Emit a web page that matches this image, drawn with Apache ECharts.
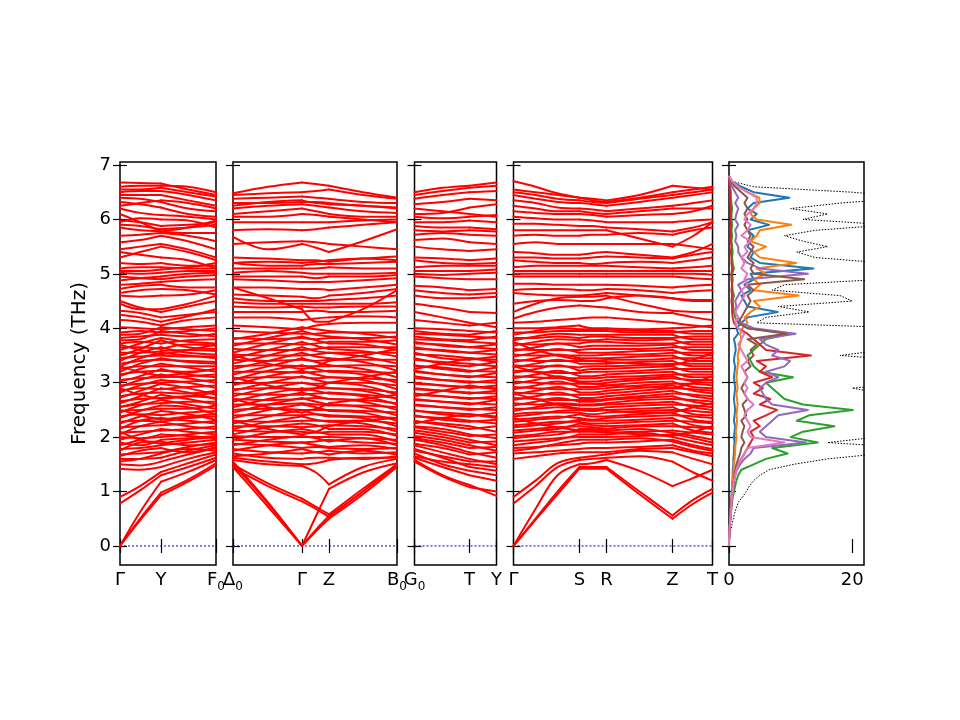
<!DOCTYPE html>
<html>
<head>
<meta charset="utf-8">
<script src="https://cdn.jsdelivr.net/npm/echarts@6/dist/echarts.min.js"></script>
<style>
html, body { margin: 0; padding: 0; background: #fff; }
#bands { width: 960px; height: 720px; }
</style>
</head>
<body>
<div id="bands"></div>
<script>
// k-path sample positions (path distance) and high-symmetry points per panel
var k1 = [0, 20, 41, 68, 96];
var k2 = [0, 35, 69, 83, 96, 130, 164];
var k3 = [0, 28, 55, 82];
var k4 = [0, 22, 44, 66, 79, 93, 126, 159, 180, 199];

var kTicks1 = [0, 41, 96];
var kTicks2 = [0, 69, 96, 164];
var kTicks3 = [0, 55, 82];
var kTicks4 = [0, 66, 93, 159, 199];

var kLabels1 = ['Γ', 'Y', 'F_0'];
var kLabels2 = ['Δ_0', 'Γ', 'Z', 'B_0'];
var kLabels3 = ['G_0', 'T', 'Y'];
var kLabels4 = ['Γ', 'S', 'R', 'Z', 'T'];

var freqTicks = [0, 1, 2, 3, 4, 5, 6, 7];
var dosTicks = [0, 20];

// Γ - Y - F0
var bands1 = [
	[0, 0.47, 0.93, 1.18, 1.48],
	[0, 0.5, 0.98, 1.22, 1.52],
	[0, 0.62, 1.18, 1.36, 1.58],
	[0.78, 1.02, 1.3, 1.45, 1.62],
	[0.9, 1.1, 1.36, 1.52, 1.68],
	[1.42, 1.4, 1.45, 1.6, 1.72],
	[1.5, 1.48, 1.55, 1.68, 1.8],
	[1.6, 1.6, 1.62, 1.75, 1.85],
	[1.68, 1.7, 1.72, 1.82, 1.9],
	[1.78, 1.8, 1.85, 1.9, 1.95],
	[1.9, 1.85, 1.95, 1.98, 2.02],
	[2.0, 1.98, 2.0, 2.05, 2.1],
	[2.08, 2.1, 2.12, 2.15, 2.2],
	[2.18, 2.2, 2.22, 2.25, 2.3],
	[2.28, 2.3, 2.28, 2.35, 2.38],
	[2.38, 2.42, 2.4, 2.45, 2.48],
	[2.48, 2.5, 2.52, 2.52, 2.58],
	[2.56, 2.6, 2.62, 2.65, 2.65],
	[2.66, 2.7, 2.72, 2.75, 2.72],
	[2.75, 2.8, 2.82, 2.8, 2.85],
	[2.85, 2.9, 2.88, 2.92, 2.95],
	[2.95, 2.98, 3.0, 3.02, 3.05],
	[3.05, 3.08, 3.1, 3.12, 3.15],
	[3.15, 3.2, 3.22, 3.2, 3.25],
	[3.25, 3.3, 3.3, 3.3, 3.3],
	[3.35, 3.4, 3.42, 3.4, 3.38],
	[3.45, 3.48, 3.5, 3.48, 3.48],
	[3.55, 3.55, 3.58, 3.6, 3.58],
	[3.65, 3.65, 3.62, 3.7, 3.68],
	[3.72, 3.75, 3.72, 3.78, 3.8],
	[3.82, 3.85, 3.88, 3.85, 3.9],
	[3.92, 3.95, 3.92, 3.95, 4.0],
	[4.02, 4.0, 3.98, 4.02, 4.05],
	[4.15, 4.12, 4.05, 4.15, 4.2],
	[4.32, 4.28, 4.2, 4.25, 4.3],
	[4.5, 4.38, 4.3, 4.4, 4.5],
	[4.45, 4.35, 4.35, 4.45, 4.6],
	[4.6, 4.58, 4.6, 4.62, 4.7],
	[4.72, 4.78, 4.8, 4.75, 4.75],
	[4.8, 4.82, 4.85, 4.88, 4.9],
	[4.95, 4.92, 4.9, 4.95, 4.98],
	[5.02, 5.0, 5.02, 5.05, 5.05],
	[5.1, 5.12, 5.12, 5.1, 5.1],
	[5.2, 5.18, 5.2, 5.15, 5.15],
	[5.4, 5.35, 5.3, 5.25, 5.1],
	[5.45, 5.5, 5.55, 5.45, 5.3],
	[5.58, 5.62, 5.7, 5.6, 5.45],
	[5.7, 5.72, 5.75, 5.7, 5.6],
	[5.85, 5.8, 5.78, 5.75, 5.75],
	[5.9, 5.88, 5.82, 5.85, 5.9],
	[5.98, 5.95, 5.88, 5.9, 5.95],
	[6.1, 5.95, 5.78, 5.85, 5.98],
	[6.2, 6.12, 6.08, 6.05, 6.0],
	[6.32, 6.28, 6.22, 6.1, 6.05],
	[6.4, 6.38, 6.32, 6.2, 6.15],
	[6.45, 6.45, 6.45, 6.35, 6.25],
	[6.5, 6.52, 6.52, 6.45, 6.35],
	[6.55, 6.55, 6.58, 6.5, 6.42],
	[6.68, 6.67, 6.66, 6.55, 6.45],
	[1.55, 1.6, 1.7, 1.78, 1.75],
	[1.65, 1.75, 1.8, 1.72, 1.82],
	[1.75, 1.9, 1.92, 1.85, 1.88],
	[1.85, 1.95, 2.05, 2.02, 1.98],
	[1.95, 2.05, 2.15, 2.1, 2.05],
	[2.05, 2.2, 2.28, 2.2, 2.15],
	[2.15, 2.3, 2.35, 2.3, 2.25],
	[2.25, 2.38, 2.48, 2.42, 2.32],
	[2.35, 2.48, 2.58, 2.55, 2.42],
	[2.45, 2.58, 2.68, 2.6, 2.52],
	[2.55, 2.65, 2.78, 2.7, 2.6],
	[2.62, 2.75, 2.9, 2.82, 2.7],
	[2.72, 2.85, 2.98, 2.9, 2.78],
	[2.82, 2.95, 3.05, 3.0, 2.9],
	[2.92, 3.05, 3.15, 3.08, 3.0],
	[3.02, 3.12, 3.25, 3.15, 3.1],
	[3.12, 3.25, 3.35, 3.28, 3.2],
	[3.2, 3.35, 3.45, 3.38, 3.35],
	[3.3, 3.45, 3.55, 3.5, 3.45],
	[3.4, 3.55, 3.65, 3.55, 3.52],
	[3.5, 3.62, 3.78, 3.65, 3.62],
	[3.6, 3.72, 3.82, 3.75, 3.72],
	[3.78, 3.8, 3.95, 3.9, 3.85],
	[3.88, 3.9, 4.02, 3.98, 3.95],
	[2.1, 1.95, 1.88, 1.95, 2.0],
	[2.5, 2.4, 2.32, 2.38, 2.42],
	[2.9, 2.78, 2.7, 2.75, 2.82],
	[3.3, 3.2, 3.12, 3.18, 3.25],
	[3.7, 3.6, 3.52, 3.6, 3.7],
	[4.25, 4.2, 4.12, 4.22, 4.35],
	[4.65, 4.7, 4.72, 4.7, 4.62],
	[4.88, 4.92, 4.95, 5.0, 5.02],
	[5.05, 5.05, 5.08, 5.12, 5.2],
	[5.3, 5.4, 5.5, 5.4, 5.25],
	[5.95, 6.02, 6.0, 5.98, 5.85],
	[6.25, 6.3, 6.35, 6.3, 6.2],
	[6.6, 6.62, 6.62, 6.6, 6.5]
];

// Δ0 - Γ - Z - B0
var bands2 = [
	[1.5, 0.78, 0, 0.55, 1.05, 1.35, 1.52],
	[1.55, 0.8, 0, 0.3, 0.55, 1.0, 1.5],
	[1.45, 0.72, 0, 0.27, 0.5, 0.95, 1.45],
	[1.5, 1.15, 0.87, 0.72, 0.58, 1.05, 1.5],
	[1.44, 1.1, 0.82, 0.68, 0.53, 1.0, 1.47],
	[1.58, 1.5, 1.47, 1.35, 1.13, 1.45, 1.6],
	[1.62, 1.55, 1.5, 1.52, 1.58, 1.62, 1.62],
	[1.7, 1.62, 1.6, 1.62, 1.62, 1.6, 1.65],
	[1.78, 1.72, 1.7, 1.72, 1.75, 1.7, 1.72],
	[1.88, 1.85, 1.8, 1.82, 1.8, 1.78, 1.8],
	[1.95, 1.92, 1.9, 1.92, 1.95, 1.9, 1.88],
	[2.02, 2.0, 2.0, 2.0, 2.0, 1.98, 1.95],
	[2.12, 2.1, 2.1, 2.08, 2.1, 2.1, 2.05],
	[2.2, 2.2, 2.18, 2.2, 2.22, 2.2, 2.15],
	[2.3, 2.28, 2.3, 2.3, 2.3, 2.3, 2.25],
	[2.4, 2.4, 2.4, 2.42, 2.4, 2.38, 2.35],
	[2.5, 2.52, 2.5, 2.5, 2.5, 2.48, 2.45],
	[2.6, 2.6, 2.62, 2.6, 2.58, 2.58, 2.55],
	[2.7, 2.68, 2.7, 2.72, 2.7, 2.68, 2.62],
	[2.8, 2.78, 2.78, 2.8, 2.82, 2.78, 2.72],
	[2.88, 2.9, 2.88, 2.9, 2.9, 2.88, 2.82],
	[2.98, 3.0, 3.0, 2.98, 3.0, 3.0, 2.95],
	[3.08, 3.1, 3.1, 3.08, 3.1, 3.08, 3.05],
	[3.2, 3.2, 3.18, 3.2, 3.22, 3.2, 3.18],
	[3.3, 3.32, 3.3, 3.3, 3.3, 3.32, 3.3],
	[3.42, 3.4, 3.42, 3.4, 3.42, 3.42, 3.42],
	[3.52, 3.5, 3.5, 3.52, 3.55, 3.55, 3.55],
	[3.62, 3.6, 3.6, 3.62, 3.65, 3.65, 3.65],
	[3.72, 3.72, 3.7, 3.72, 3.75, 3.75, 3.78],
	[3.82, 3.8, 3.82, 3.8, 3.82, 3.82, 3.85],
	[3.95, 3.92, 3.9, 3.9, 3.92, 3.92, 3.92],
	[4.05, 4.02, 3.98, 4.05, 4.08, 4.1, 4.1],
	[4.75, 4.55, 4.35, 4.12, 4.12, 4.35, 4.7],
	[4.3, 4.3, 4.3, 4.32, 4.3, 4.3, 4.32],
	[4.48, 4.45, 4.45, 4.45, 4.45, 4.45, 4.48],
	[4.62, 4.6, 4.58, 4.55, 4.6, 4.65, 4.72],
	[4.75, 4.75, 4.72, 4.72, 4.7, 4.75, 4.8],
	[4.9, 4.88, 4.85, 4.85, 4.85, 4.88, 4.92],
	[5.02, 5.05, 5.02, 5.0, 5.0, 5.0, 5.02],
	[5.1, 5.1, 5.1, 5.1, 5.12, 5.1, 5.1],
	[5.2, 5.15, 5.15, 5.18, 5.18, 5.2, 5.22],
	[5.3, 5.28, 5.25, 5.25, 5.22, 5.28, 5.32],
	[5.55, 5.58, 5.6, 5.58, 5.55, 5.5, 5.45],
	[5.68, 5.45, 5.55, 5.48, 5.4, 5.6, 5.82],
	[5.8, 5.82, 5.8, 5.82, 5.85, 5.9, 5.95],
	[5.95, 5.95, 5.95, 5.95, 5.95, 5.98, 6.0],
	[6.1, 6.15, 6.2, 6.15, 6.1, 6.05, 6.05],
	[6.2, 6.25, 6.28, 6.25, 6.22, 6.15, 6.12],
	[6.3, 6.3, 6.32, 6.32, 6.3, 6.25, 6.22],
	[6.38, 6.4, 6.42, 6.4, 6.38, 6.32, 6.3],
	[6.45, 6.48, 6.5, 6.52, 6.55, 6.45, 6.38],
	[6.48, 6.6, 6.68, 6.65, 6.62, 6.5, 6.4],
	[1.65, 1.7, 1.78, 1.72, 1.68, 1.75, 1.68],
	[1.75, 1.85, 1.9, 1.85, 1.82, 1.85, 1.78],
	[1.85, 1.95, 2.02, 1.98, 1.92, 1.98, 1.85],
	[1.95, 2.08, 2.15, 2.1, 2.05, 2.05, 1.92],
	[2.05, 2.18, 2.25, 2.22, 2.15, 2.15, 2.02],
	[2.15, 2.28, 2.38, 2.32, 2.28, 2.25, 2.1],
	[2.25, 2.38, 2.5, 2.42, 2.38, 2.35, 2.2],
	[2.35, 2.5, 2.6, 2.55, 2.48, 2.45, 2.3],
	[2.45, 2.6, 2.72, 2.65, 2.6, 2.55, 2.4],
	[2.55, 2.7, 2.82, 2.75, 2.7, 2.65, 2.5],
	[2.65, 2.8, 2.9, 2.85, 2.8, 2.75, 2.6],
	[2.75, 2.9, 3.0, 2.95, 2.9, 2.85, 2.7],
	[2.85, 3.0, 3.12, 3.05, 3.0, 2.95, 2.78],
	[2.95, 3.12, 3.22, 3.15, 3.1, 3.05, 2.88],
	[3.05, 3.22, 3.32, 3.25, 3.2, 3.15, 3.0],
	[3.15, 3.3, 3.45, 3.38, 3.32, 3.25, 3.1],
	[3.25, 3.4, 3.55, 3.48, 3.45, 3.38, 3.22],
	[3.35, 3.5, 3.65, 3.58, 3.55, 3.48, 3.35],
	[3.45, 3.6, 3.75, 3.68, 3.62, 3.58, 3.48],
	[3.55, 3.72, 3.85, 3.78, 3.72, 3.7, 3.6],
	[3.68, 3.82, 3.95, 3.88, 3.85, 3.8, 3.7],
	[3.8, 3.9, 4.02, 3.98, 3.95, 3.9, 3.82],
	[2.3, 2.15, 2.05, 2.1, 2.2, 2.3, 2.35],
	[2.7, 2.55, 2.45, 2.52, 2.62, 2.7, 2.78],
	[3.1, 2.95, 2.85, 2.9, 3.0, 3.1, 3.2],
	[3.5, 3.35, 3.25, 3.3, 3.4, 3.5, 3.62],
	[4.2, 4.2, 4.15, 4.18, 4.2, 4.22, 4.2],
	[4.4, 4.38, 4.4, 4.38, 4.38, 4.4, 4.4],
	[4.55, 4.5, 4.5, 4.5, 4.52, 4.55, 4.6],
	[4.95, 4.95, 4.95, 4.92, 4.95, 4.95, 4.98],
	[5.2, 5.22, 5.2, 5.22, 5.25, 5.28, 5.25],
	[6.05, 6.05, 6.1, 6.08, 6.05, 6.0, 5.95],
	[6.25, 6.32, 6.35, 6.3, 6.28, 6.25, 6.2]
];

// G0 - T - Y
var bands3 = [
	[1.58, 1.3, 1.12, 0.92],
	[1.55, 1.28, 1.08, 1.0],
	[1.62, 1.45, 1.3, 1.2],
	[1.7, 1.5, 1.38, 1.3],
	[1.78, 1.62, 1.45, 1.38],
	[1.85, 1.72, 1.6, 1.5],
	[1.95, 1.85, 1.72, 1.62],
	[2.02, 1.95, 1.85, 1.75],
	[2.12, 2.05, 1.95, 1.85],
	[2.2, 2.15, 2.05, 1.98],
	[2.28, 2.25, 2.2, 2.1],
	[2.38, 2.35, 2.3, 2.25],
	[2.48, 2.45, 2.42, 2.38],
	[2.58, 2.55, 2.52, 2.5],
	[2.68, 2.65, 2.62, 2.6],
	[2.78, 2.75, 2.72, 2.7],
	[2.88, 2.85, 2.82, 2.8],
	[2.98, 2.95, 2.92, 2.9],
	[3.08, 3.05, 3.02, 3.0],
	[3.2, 3.15, 3.12, 3.1],
	[3.3, 3.28, 3.22, 3.2],
	[3.42, 3.38, 3.35, 3.3],
	[3.52, 3.5, 3.45, 3.42],
	[3.62, 3.6, 3.55, 3.52],
	[3.72, 3.7, 3.65, 3.62],
	[3.8, 3.78, 3.75, 3.72],
	[3.9, 3.88, 3.85, 3.82],
	[4.0, 3.98, 3.95, 3.92],
	[4.3, 4.2, 4.1, 4.02],
	[4.45, 4.38, 4.3, 4.28],
	[4.6, 4.55, 4.55, 4.58],
	[4.78, 4.75, 4.7, 4.72],
	[4.95, 4.92, 4.9, 4.9],
	[5.05, 5.05, 5.05, 5.08],
	[5.12, 5.15, 5.15, 5.15],
	[5.25, 5.2, 5.18, 5.2],
	[5.5, 5.45, 5.42, 5.45],
	[5.62, 5.65, 5.58, 5.55],
	[5.72, 5.75, 5.72, 5.7],
	[5.88, 5.85, 5.85, 5.82],
	[5.95, 5.95, 5.98, 5.95],
	[6.05, 6.02, 6.05, 6.08],
	[6.2, 6.15, 6.1, 6.05],
	[6.28, 6.32, 6.38, 6.35],
	[6.38, 6.45, 6.5, 6.52],
	[6.45, 6.52, 6.58, 6.62],
	[6.5, 6.58, 6.62, 6.68],
	[1.65, 1.55, 1.5, 1.45],
	[1.75, 1.65, 1.55, 1.55],
	[1.88, 1.8, 1.68, 1.72],
	[1.98, 1.9, 1.8, 1.82],
	[2.08, 2.0, 1.9, 1.92],
	[2.18, 2.1, 2.02, 2.05],
	[2.3, 2.22, 2.15, 2.2],
	[2.4, 2.32, 2.28, 2.32],
	[2.5, 2.42, 2.38, 2.45],
	[2.6, 2.55, 2.5, 2.55],
	[2.7, 2.65, 2.6, 2.68],
	[2.8, 2.75, 2.7, 2.75],
	[2.9, 2.85, 2.8, 2.85],
	[3.0, 2.95, 2.9, 2.95],
	[3.12, 3.05, 3.0, 3.05],
	[3.22, 3.15, 3.1, 3.18],
	[3.32, 3.25, 3.2, 3.28],
	[3.45, 3.35, 3.3, 3.38],
	[3.55, 3.45, 3.42, 3.48],
	[3.65, 3.58, 3.55, 3.6],
	[3.75, 3.68, 3.65, 3.7],
	[3.85, 3.8, 3.78, 3.85],
	[3.95, 3.9, 3.88, 3.95],
	[2.25, 2.35, 2.42, 2.35],
	[2.75, 2.85, 2.95, 2.88],
	[3.25, 3.35, 3.45, 3.38],
	[4.15, 4.1, 4.05, 4.1],
	[4.7, 4.65, 4.62, 4.65],
	[5.0, 4.98, 5.0, 5.02],
	[5.3, 5.28, 5.25, 5.28],
	[5.8, 5.78, 5.8, 5.78],
	[6.1, 6.12, 6.22, 6.28]
];

// Γ - S - R - Z - T
var bands4 = [
	[0, 0.48, 0.95, 1.42, 1.42, 1.42, 0.95, 0.5, 0.78, 0.98],
	[0, 0.5, 1.0, 1.45, 1.45, 1.45, 1.0, 0.56, 0.85, 1.05],
	[0, 0.68, 1.3, 1.5, 1.52, 1.58, 1.38, 1.1, 1.25, 1.4],
	[0.78, 1.1, 1.45, 1.58, 1.6, 1.62, 1.65, 1.55, 1.35, 1.2],
	[0.9, 1.2, 1.52, 1.62, 1.65, 1.68, 1.75, 1.72, 1.6, 1.5],
	[1.7, 1.72, 1.75, 1.78, 1.8, 1.8, 1.82, 1.85, 1.75, 1.7],
	[1.8, 1.82, 1.85, 1.88, 1.9, 1.9, 1.92, 1.95, 1.85, 1.78],
	[1.92, 1.95, 1.98, 2.0, 2.0, 2.0, 2.02, 2.05, 1.98, 1.9],
	[2.02, 2.05, 2.1, 2.1, 2.1, 2.08, 2.1, 2.12, 2.08, 2.05],
	[2.12, 2.15, 2.18, 2.2, 2.18, 2.15, 2.2, 2.2, 2.18, 2.15],
	[2.22, 2.25, 2.28, 2.28, 2.25, 2.25, 2.28, 2.3, 2.28, 2.25],
	[2.32, 2.35, 2.38, 2.35, 2.32, 2.35, 2.38, 2.4, 2.38, 2.35],
	[2.42, 2.45, 2.45, 2.45, 2.42, 2.45, 2.48, 2.5, 2.48, 2.45],
	[2.52, 2.52, 2.55, 2.52, 2.52, 2.55, 2.58, 2.6, 2.58, 2.55],
	[2.62, 2.6, 2.62, 2.6, 2.6, 2.62, 2.68, 2.7, 2.68, 2.65],
	[2.72, 2.7, 2.68, 2.68, 2.68, 2.7, 2.75, 2.8, 2.78, 2.75],
	[2.82, 2.8, 2.78, 2.78, 2.78, 2.8, 2.85, 2.9, 2.88, 2.85],
	[2.92, 2.9, 2.88, 2.88, 2.88, 2.9, 2.95, 2.98, 2.98, 2.95],
	[3.02, 3.0, 2.98, 2.98, 2.98, 3.0, 3.05, 3.08, 3.05, 3.05],
	[3.12, 3.1, 3.08, 3.08, 3.08, 3.1, 3.12, 3.15, 3.15, 3.15],
	[3.22, 3.2, 3.18, 3.18, 3.2, 3.2, 3.22, 3.25, 3.25, 3.25],
	[3.32, 3.3, 3.3, 3.28, 3.3, 3.3, 3.32, 3.35, 3.35, 3.35],
	[3.42, 3.4, 3.4, 3.4, 3.4, 3.42, 3.42, 3.45, 3.45, 3.45],
	[3.52, 3.5, 3.5, 3.5, 3.5, 3.52, 3.52, 3.55, 3.55, 3.55],
	[3.62, 3.6, 3.6, 3.6, 3.62, 3.62, 3.62, 3.65, 3.65, 3.65],
	[3.72, 3.7, 3.72, 3.72, 3.75, 3.75, 3.72, 3.72, 3.75, 3.75],
	[3.82, 3.82, 3.85, 3.82, 3.85, 3.85, 3.82, 3.82, 3.85, 3.85],
	[3.92, 3.92, 3.95, 3.95, 3.95, 3.95, 3.92, 3.92, 3.95, 3.95],
	[4.0, 4.0, 4.02, 4.05, 4.0, 4.0, 3.98, 4.0, 4.02, 4.05],
	[4.18, 4.3, 4.38, 4.42, 4.4, 4.38, 4.3, 4.28, 4.2, 4.15],
	[4.3, 4.45, 4.55, 4.58, 4.58, 4.6, 4.45, 4.32, 4.3, 4.3],
	[4.45, 4.5, 4.52, 4.5, 4.5, 4.55, 4.6, 4.55, 4.5, 4.5],
	[4.65, 4.62, 4.6, 4.6, 4.62, 4.65, 4.6, 4.55, 4.52, 4.52],
	[4.82, 4.82, 4.8, 4.8, 4.8, 4.8, 4.78, 4.75, 4.78, 4.8],
	[4.95, 4.95, 4.95, 4.95, 4.95, 4.95, 4.95, 4.95, 4.92, 4.9],
	[5.05, 5.05, 5.05, 5.05, 5.05, 5.05, 5.05, 5.05, 5.05, 5.05],
	[5.12, 5.15, 5.15, 5.15, 5.15, 5.15, 5.12, 5.1, 5.12, 5.15],
	[5.25, 5.22, 5.2, 5.2, 5.18, 5.2, 5.22, 5.2, 5.25, 5.3],
	[5.4, 5.38, 5.35, 5.35, 5.38, 5.4, 5.35, 5.3, 5.4, 5.55],
	[5.55, 5.58, 5.55, 5.55, 5.55, 5.55, 5.55, 5.55, 5.5, 5.45],
	[5.8, 5.8, 5.8, 5.8, 5.8, 5.8, 5.65, 5.5, 5.7, 5.95],
	[5.92, 5.92, 5.9, 5.88, 5.88, 5.85, 5.82, 5.78, 5.85, 5.95],
	[6.05, 6.02, 6.0, 6.0, 5.98, 5.95, 5.95, 5.95, 5.98, 6.0],
	[6.25, 6.2, 6.15, 6.15, 6.12, 6.1, 6.15, 6.2, 6.2, 6.2],
	[6.35, 6.3, 6.22, 6.2, 6.18, 6.15, 6.2, 6.25, 6.3, 6.35],
	[6.45, 6.38, 6.32, 6.3, 6.28, 6.25, 6.32, 6.4, 6.45, 6.5],
	[6.5, 6.45, 6.38, 6.35, 6.32, 6.3, 6.38, 6.45, 6.5, 6.55],
	[6.7, 6.6, 6.48, 6.4, 6.38, 6.35, 6.45, 6.62, 6.58, 6.55],
	[1.6, 1.65, 1.7, 1.72, 1.72, 1.72, 1.78, 1.8, 1.72, 1.65],
	[1.75, 1.8, 1.88, 1.95, 1.95, 1.95, 1.98, 1.92, 1.82, 1.75],
	[1.85, 1.9, 1.95, 2.05, 2.05, 2.05, 2.08, 2.0, 1.92, 1.85],
	[1.98, 2.02, 2.05, 2.15, 2.15, 2.12, 2.15, 2.08, 2.02, 1.95],
	[2.08, 2.12, 2.15, 2.25, 2.22, 2.2, 2.22, 2.25, 2.12, 2.08],
	[2.18, 2.22, 2.25, 2.32, 2.3, 2.3, 2.32, 2.35, 2.22, 2.18],
	[2.28, 2.32, 2.35, 2.42, 2.38, 2.38, 2.42, 2.45, 2.32, 2.28],
	[2.38, 2.42, 2.48, 2.5, 2.48, 2.5, 2.52, 2.55, 2.42, 2.4],
	[2.48, 2.55, 2.6, 2.58, 2.58, 2.6, 2.62, 2.65, 2.55, 2.5],
	[2.58, 2.65, 2.72, 2.65, 2.65, 2.68, 2.72, 2.75, 2.65, 2.6],
	[2.68, 2.75, 2.82, 2.72, 2.72, 2.75, 2.8, 2.85, 2.75, 2.7],
	[2.78, 2.85, 2.92, 2.82, 2.82, 2.85, 2.9, 2.95, 2.85, 2.8],
	[2.88, 2.95, 3.02, 2.92, 2.92, 2.95, 3.0, 3.02, 2.92, 2.9],
	[2.98, 3.05, 3.12, 3.02, 3.02, 3.05, 3.08, 3.12, 3.02, 3.0],
	[3.08, 3.15, 3.22, 3.12, 3.12, 3.15, 3.18, 3.2, 3.1, 3.1],
	[3.18, 3.25, 3.32, 3.22, 3.25, 3.25, 3.28, 3.3, 3.2, 3.2],
	[3.28, 3.35, 3.42, 3.35, 3.35, 3.35, 3.38, 3.4, 3.3, 3.3],
	[3.38, 3.45, 3.52, 3.45, 3.45, 3.45, 3.48, 3.5, 3.4, 3.4],
	[3.48, 3.55, 3.62, 3.55, 3.55, 3.55, 3.58, 3.6, 3.5, 3.5],
	[3.58, 3.65, 3.72, 3.65, 3.68, 3.68, 3.68, 3.7, 3.6, 3.6],
	[3.68, 3.75, 3.8, 3.78, 3.78, 3.8, 3.78, 3.8, 3.7, 3.7],
	[3.78, 3.85, 3.9, 3.88, 3.88, 3.88, 3.88, 3.88, 3.8, 3.8],
	[3.88, 3.95, 4.0, 3.98, 3.98, 3.98, 3.95, 3.95, 3.9, 3.9],
	[2.35, 2.25, 2.18, 2.12, 2.12, 2.1, 2.05, 2.02, 2.1, 2.2],
	[2.8, 2.7, 2.6, 2.52, 2.5, 2.5, 2.45, 2.45, 2.55, 2.62],
	[3.3, 3.2, 3.1, 3.0, 2.98, 2.95, 2.92, 2.9, 3.0, 3.12],
	[3.75, 3.6, 3.5, 3.42, 3.4, 3.38, 3.35, 3.32, 3.42, 3.55],
	[4.1, 4.12, 4.15, 4.18, 4.2, 4.2, 4.15, 4.1, 4.05, 4.02],
	[4.7, 4.72, 4.72, 4.7, 4.7, 4.72, 4.7, 4.65, 4.68, 4.7],
	[5.0, 5.0, 5.0, 5.0, 5.0, 5.0, 5.0, 5.0, 5.0, 4.98],
	[5.3, 5.3, 5.28, 5.28, 5.3, 5.32, 5.3, 5.28, 5.35, 5.4],
	[5.7, 5.72, 5.7, 5.7, 5.72, 5.72, 5.75, 5.72, 5.8, 5.85],
	[6.15, 6.12, 6.1, 6.1, 6.08, 6.05, 6.08, 6.1, 6.15, 6.25],
	[6.55, 6.5, 6.45, 6.4, 6.35, 6.32, 6.4, 6.5, 6.55, 6.6]
];

// DOS: frequency grid (THz) and densities
var dosFreq = [0, 0.1, 0.2, 0.3, 0.4, 0.5, 0.6, 0.7, 0.8, 0.9, 1.0,
	1.1, 1.2, 1.3, 1.4, 1.5, 1.6, 1.7, 1.8, 1.9, 2.0,
	2.1, 2.2, 2.3, 2.4, 2.5, 2.6, 2.7, 2.8, 2.9, 3.0,
	3.1, 3.2, 3.3, 3.4, 3.5, 3.6, 3.7, 3.8, 3.9, 4.0,
	4.1, 4.2, 4.3, 4.4, 4.5, 4.6, 4.7, 4.8, 4.9, 5.0,
	5.1, 5.2, 5.3, 5.4, 5.5, 5.6, 5.7, 5.8, 5.9, 6.0,
	6.1, 6.2, 6.3, 6.4, 6.5, 6.6, 6.7, 6.8];

var dosTotal = [0, 0.05, 0.1, 0.3, 0.5, 0.7, 0.9, 1.2, 1.5, 2.2, 2.8,
	3.3, 4.0, 5.0, 6.5, 10.5, 16, 25, 30, 16, 24,
	30, 35, 30, 40, 45, 35, 30, 25, 20, 30,
	25, 35, 40, 30, 18, 25, 30, 40, 22, 30,
	4.5, 6, 13, 8, 20, 18, 7, 9, 25, 30,
	35, 25, 14, 11, 16, 12, 9, 14, 26, 12,
	16, 10, 18, 30, 20, 4, 0.5, 0];

var dosBlue = [0, 0, 0.05, 0.1, 0.15, 0.2, 0.25, 0.3, 0.35, 0.4, 0.45,
	0.5, 0.55, 0.6, 0.6, 0.7, 0.7, 0.8, 0.8, 0.9, 0.8,
	0.9, 1.0, 0.8, 0.9, 1.0, 0.9, 0.8, 0.9, 1.0, 0.9,
	0.8, 0.9, 1.0, 0.8, 0.9, 1.1, 1.0, 0.8, 1.5, 1.2,
	2.0, 3.0, 7.9, 3.0, 2.5, 2.0, 3.5, 2.5, 4.0, 3.5,
	13.7, 5.0, 3.5, 4.0, 3.0, 3.5, 4.0, 3.0, 6.5, 3.5,
	4.5, 3.0, 4.0, 9.8, 4.0, 2.0, 0.5, 0];

var dosOrange = [0, 0, 0.05, 0.1, 0.15, 0.2, 0.25, 0.3, 0.35, 0.4, 0.5,
	0.5, 0.6, 0.7, 0.7, 0.8, 0.9, 1.0, 1.0, 1.1, 1.2,
	1.1, 1.2, 1.3, 1.2, 1.3, 1.4, 1.3, 1.2, 1.4, 1.3,
	1.2, 1.3, 1.4, 1.5, 1.4, 1.6, 1.8, 2.0, 1.8, 2.2,
	3.0, 2.5, 3.5, 5.0, 4.0, 11.3, 4.0, 5.0, 4.0, 6.0,
	4.5, 10.9, 5.0, 4.0, 6.0, 3.5, 4.5, 5.0, 10.1, 4.5,
	3.5, 4.0, 5.0, 4.9, 3.0, 1.5, 0.5, 0];

var dosGreen = [0, 0, 0.05, 0.1, 0.15, 0.2, 0.3, 0.4, 0.5, 0.6, 0.8,
	1.0, 1.2, 1.5, 2.0, 4.0, 6.0, 9.5, 7.0, 14.4, 10.0,
	12.0, 17.1, 11.0, 13.0, 20.1, 12.0, 9.0, 8.0, 7.0, 6.0,
	10.4, 5.0, 4.0, 3.5, 3.0, 4.0, 5.0, 6.0, 10.1, 3.0,
	1.5, 1.0, 0.8, 0.7, 0.6, 0.8, 0.6, 0.5, 0.6, 0.5,
	0.8, 0.6, 0.5, 0.6, 0.5, 0.4, 0.5, 0.4, 0.5, 0.4,
	0.4, 0.5, 0.4, 0.3, 0.3, 0.2, 0.1, 0];

var dosRed = [0, 0, 0.05, 0.1, 0.15, 0.2, 0.3, 0.35, 0.4, 0.5, 0.6,
	0.7, 0.8, 1.0, 1.2, 1.5, 2.0, 2.5, 3.0, 3.5, 4.0,
	3.5, 5.0, 4.0, 6.0, 7.8, 5.0, 6.7, 4.0, 5.5, 4.0,
	7.0, 5.0, 6.0, 4.5, 13.3, 6.0, 5.0, 4.0, 3.0, 1.5,
	0.8, 0.6, 0.5, 0.5, 0.4, 0.5, 0.4, 0.5, 0.4, 0.4,
	0.5, 0.4, 0.4, 0.3, 0.4, 0.3, 0.3, 0.3, 0.3, 0.3,
	0.3, 0.3, 0.2, 0.2, 0.2, 0.1, 0.05, 0];

var dosPurple = [0, 0, 0.05, 0.1, 0.15, 0.2, 0.3, 0.35, 0.4, 0.5, 0.6,
	0.7, 0.8, 1.0, 1.3, 1.8, 2.5, 3.5, 4.0, 12.5, 6.0,
	5.0, 6.0, 7.0, 8.0, 12.8, 7.0, 6.0, 5.5, 5.0, 6.0,
	8.0, 6.0, 9.0, 9.9, 7.0, 8.0, 6.0, 5.0, 10.8, 4.0,
	2.0, 1.5, 1.0, 1.2, 1.0, 1.5, 2.0, 1.5, 3.0, 12.8,
	5.0, 3.0, 2.0, 1.5, 1.5, 1.0, 1.2, 1.0, 1.5, 1.0,
	1.2, 1.5, 1.0, 1.5, 1.0, 0.5, 0.2, 0];

var dosBrown = [0, 0, 0.05, 0.1, 0.15, 0.2, 0.25, 0.3, 0.4, 0.5, 0.6,
	0.7, 0.8, 0.9, 1.0, 1.2, 1.5, 1.8, 2.0, 2.5, 2.0,
	2.2, 2.5, 2.0, 2.8, 2.5, 2.2, 3.0, 2.5, 2.0, 2.5,
	3.0, 2.5, 3.5, 3.0, 4.0, 3.5, 4.5, 3.0, 9.3, 3.0,
	1.5, 2.0, 2.5, 3.0, 3.5, 3.0, 4.0, 3.0, 12.2, 4.0,
	3.5, 4.0, 3.0, 3.5, 4.0, 3.0, 3.5, 3.0, 2.5, 3.0,
	2.5, 3.0, 2.5, 3.0, 2.0, 1.0, 0.3, 0];

var dosPink = [0, 0, 0.05, 0.1, 0.15, 0.2, 0.3, 0.35, 0.4, 0.5, 0.6,
	0.7, 0.8, 1.0, 1.2, 1.5, 2.0, 2.5, 3.0, 9.0, 3.5,
	3.0, 3.5, 3.0, 2.5, 3.0, 4.0, 3.0, 2.5, 3.0, 2.5,
	3.0, 2.5, 2.0, 3.0, 2.5, 2.0, 1.5, 2.0, 2.5, 1.5,
	1.0, 1.5, 1.0, 1.5, 2.0, 2.5, 2.0, 3.0, 2.5, 3.0,
	2.0, 2.5, 2.0, 3.0, 2.5, 3.5, 2.0, 3.0, 3.5, 2.5,
	3.0, 4.0, 4.5, 4.5, 3.0, 1.5, 0.5, 0];

var FONT = 'DejaVu Sans';
var panels = [
	{ k: k1, bands: bands1, ticks: kTicks1, labels: kLabels1, left: 120, width: 96 },
	{ k: k2, bands: bands2, ticks: kTicks2, labels: kLabels2, left: 233, width: 164 },
	{ k: k3, bands: bands3, ticks: kTicks3, labels: kLabels3, left: 414.5, width: 82 },
	{ k: k4, bands: bands4, ticks: kTicks4, labels: kLabels4, left: 513.5, width: 199 }
];
var dosPanel = { left: 729, width: 135, max: 21.9 };
var yMin = -0.35, yMax = 7.055;

function labelFormatter(ticks, labels) {
	return function (v) {
		var i = ticks.indexOf(v);
		if (i < 0) return '';
		var s = labels[i];
		if (s.indexOf('_') >= 0) {
			var p = s.split('_');
			return '{m|' + p[0] + '}{s|' + p[1] + '}';
		}
		return '{m|' + s + '}';
	};
}

var richLabel = {
	m: { fontSize: 18, fontFamily: FONT, color: '#000', lineHeight: 22, verticalAlign: 'top' },
	s: { fontSize: 12, fontFamily: FONT, color: '#000', lineHeight: 12, verticalAlign: 'bottom' }
};

function xAxisPair(gi, max, ticks, formatter) {
	var tick = { show: true, inside: true, length: 7, customValues: ticks, lineStyle: { color: '#000', width: 1.2 } };
	return [{
		gridIndex: gi, type: 'value', min: 0, max: max, position: 'bottom',
		axisLine: { show: false }, splitLine: { show: false }, axisTick: tick,
		axisLabel: { show: true, customValues: ticks, formatter: formatter, margin: 6, showMinLabel: true, showMaxLabel: true, rich: richLabel }
	}, {
		gridIndex: gi, type: 'value', min: 0, max: max, position: 'top',
		axisLine: { show: false }, splitLine: { show: false }, axisTick: tick,
		axisLabel: { show: false }
	}];
}

function yAxisPair(gi, showLabels) {
	var tick = { show: true, inside: true, length: 7, customValues: freqTicks, lineStyle: { color: '#000', width: 1.2 } };
	var left = {
		gridIndex: gi, type: 'value', min: yMin, max: yMax, position: 'left',
		axisLine: { show: false }, splitLine: { show: false }, axisTick: tick,
		axisLabel: { show: showLabels, customValues: freqTicks, margin: 9, color: '#000', fontSize: 18, fontFamily: FONT }
	};
	if (showLabels) {
		left.name = 'Frequency (THz)';
		left.nameLocation = 'middle';
		left.nameRotate = 90;
		left.nameGap = 30;
		left.nameTextStyle = { color: '#000', fontSize: 20, fontFamily: FONT };
	}
	return [left, {
		gridIndex: gi, type: 'value', min: yMin, max: yMax, position: 'right',
		axisLine: { show: false }, splitLine: { show: false }, axisTick: tick,
		axisLabel: { show: false }
	}];
}

// cut one band into pieces between high-symmetry points (kinks allowed there)
function bandPieces(k, b, ticks) {
	var pieces = [];
	for (var t = 0; t < ticks.length - 1; t++) {
		var seg = [];
		for (var j = 0; j < k.length; j++) {
			if (k[j] >= ticks[t] && k[j] <= ticks[t + 1]) seg.push([k[j], b[j]]);
		}
		if (seg.length > 1) pieces.push(seg);
	}
	return pieces;
}

function drawChart() {
	var myChart = echarts.init(document.getElementById('bands'), null, { renderer: 'canvas' });
	var grid = [], xAxis = [], yAxis = [], series = [];

	panels.forEach(function (p, i) {
		grid.push({ show: true, left: p.left, width: p.width, top: 162, height: 403, borderColor: '#000', borderWidth: 1.5, backgroundColor: 'transparent' });
		xAxis = xAxis.concat(xAxisPair(i, p.width, p.ticks, labelFormatter(p.ticks, p.labels)));
		yAxis = yAxis.concat(yAxisPair(i, i === 0));
		// 零频率参考线
		series.push({
			type: 'line', xAxisIndex: 2 * i, yAxisIndex: 2 * i, silent: true, symbol: 'none',
			data: [[0, 0], [p.width, 0]],
			lineStyle: { color: '#0000cc', width: 1, type: [2, 2] }, z: 1
		});
		p.bands.forEach(function (b) {
			bandPieces(p.k, b, p.ticks).forEach(function (seg) {
				series.push({
					type: 'line', xAxisIndex: 2 * i, yAxisIndex: 2 * i, silent: true,
					symbol: 'none', smooth: 0.35,
					data: seg,
					lineStyle: { color: '#ff0000', width: 2, cap: 'round', join: 'round' }, z: 2
				});
			});
		});
	});

	// DOS panel
	var di = panels.length;
	grid.push({ show: true, left: dosPanel.left, width: dosPanel.width, top: 162, height: 403, borderColor: '#000', borderWidth: 1.5, backgroundColor: 'transparent' });
	xAxis = xAxis.concat(xAxisPair(di, dosPanel.max, dosTicks, function (v) { return '{m|' + v + '}'; }));
	yAxis = yAxis.concat(yAxisPair(di, false));

	function dosSeries(vals, color, width, dashed) {
		return {
			type: 'line', xAxisIndex: 2 * di, yAxisIndex: 2 * di, silent: true, symbol: 'none',
			data: vals.map(function (d, j) { return [d, dosFreq[j]]; }),
			lineStyle: { color: color, width: width, type: dashed ? [1.5, 1.5] : 'solid', join: 'round' }
		};
	}
	series.push(dosSeries(dosTotal, '#000000', 1, true));
	series.push(dosSeries(dosBlue, '#1f77b4', 2));
	series.push(dosSeries(dosOrange, '#ff7f0e', 2));
	series.push(dosSeries(dosGreen, '#2ca02c', 2));
	series.push(dosSeries(dosRed, '#d62728', 2));
	series.push(dosSeries(dosPurple, '#9467bd', 2));
	series.push(dosSeries(dosBrown, '#8c564b', 2));
	series.push(dosSeries(dosPink, '#e377c2', 2));

	var option = {
		animation: false,
		backgroundColor: '#fff',
		textStyle: { fontFamily: FONT },
		grid: grid,
		xAxis: xAxis,
		yAxis: yAxis,
		series: series
	};
	myChart.setOption(option);
}

drawChart();
</script>
</body>
</html>
